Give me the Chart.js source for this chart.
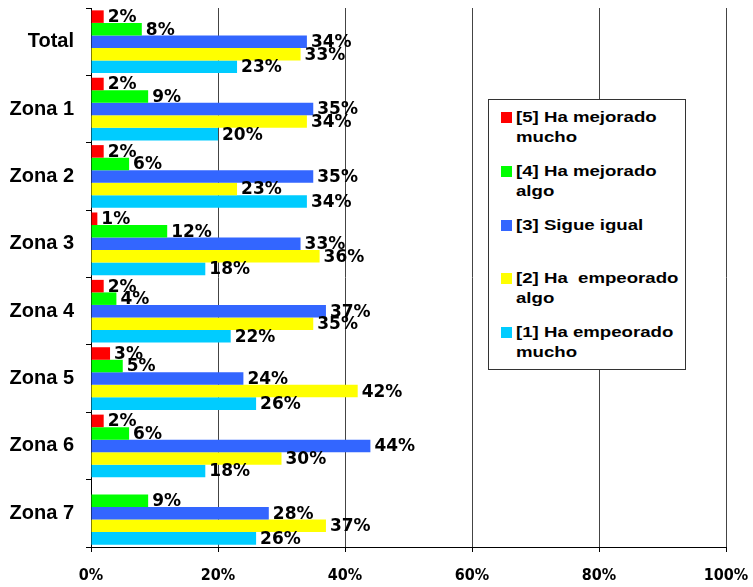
<!DOCTYPE html>
<html>
<head>
<meta charset="utf-8">
<script src="https://cdn.jsdelivr.net/npm/chart.js@4/dist/chart.umd.min.js"></script>
<style>
  html, body { margin: 0; padding: 0; background: #fff; }
  #wrap { position: relative; width: 753px; height: 587px; }
  #legend {
    position: absolute; left: 488px; top: 99px; width: 198px; height: 271px;
    border: 1px solid #333; background: #fff; box-sizing: border-box;
    font: bold 14px "Liberation Sans", Arial, sans-serif; color: #000;
  }
  .item { position: absolute; left: 12px; }
  .item i { position: absolute; left: 0; top: 5px; width: 11px; height: 11px; }
  .item span {
    position: absolute; left: 15px; top: 0; white-space: nowrap; line-height: 20px;
    transform: scaleX(1.33); transform-origin: left top;
  }
</style>
</head>
<body>
<div id="wrap">
  <canvas id="chart" width="753" height="587"></canvas>
  <div id="legend"></div>
</div>
<script>
(function () {
  'use strict';

  var categories = ['Total', 'Zona 1', 'Zona 2', 'Zona 3', 'Zona 4', 'Zona 5', 'Zona 6', 'Zona 7'];
  var seriesNames = ['[5] Ha mejorado mucho', '[4] Ha mejorado algo', '[3] Sigue igual',
                     '[2] Ha  empeorado algo', '[1] Ha empeorado mucho'];
  var colors = ['#ff0000', '#00ff00', '#3366ff', '#ffff00', '#00ccff'];

  var mejoradoMucho  = [2, 2, 2, 1, 2, 3, 2, 0];
  var mejoradoAlgo   = [8, 9, 6, 12, 4, 5, 6, 9];
  var sigueIgual     = [34, 35, 35, 33, 37, 24, 44, 28];
  var empeoradoAlgo  = [33, 34, 23, 36, 35, 42, 30, 37];
  var empeoradoMucho = [23, 20, 34, 18, 22, 26, 18, 26];

  var xTicks = [0, 20, 40, 60, 80, 100];

  var series = [mejoradoMucho, mejoradoAlgo, sigueIgual, empeoradoAlgo, empeoradoMucho];

  /** Draw value labels to the right of each bar */
  var valueLabels = {
    id: 'valueLabels',
    afterDatasetsDraw: function (chart) {
      var ctx = chart.ctx;
      ctx.save();
      ctx.font = 'bold 17px "DejaVu Sans", sans-serif';
      ctx.fillStyle = '#000';
      ctx.textAlign = 'left';
      ctx.textBaseline = 'middle';
      chart.data.datasets.forEach(function (ds, i) {
        var meta = chart.getDatasetMeta(i);
        meta.data.forEach(function (bar, j) {
          var v = ds.data[j];
          if (!v) return;
          ctx.fillText(v + '%', bar.x + 4, bar.y + 1);
        });
      });
      ctx.restore();
    }
  };

  new Chart(document.getElementById('chart'), {
    type: 'bar',
    data: {
      labels: categories,
      datasets: series.map(function (d, i) {
        return {
          label: seriesNames[i],
          data: d,
          backgroundColor: colors[i],
          borderWidth: 0,
          barPercentage: 1,
          categoryPercentage: 0.93
        };
      })
    },
    options: {
      indexAxis: 'y',
      responsive: false,
      animation: false,
      layout: { padding: { top: 8, right: 27, left: 0, bottom: 0 } },
      plugins: { legend: { display: false }, tooltip: { enabled: false } },
      scales: {
        x: {
          min: 0, max: 100,
          afterBuildTicks: function (s) {
            s.ticks = xTicks.map(function (v) { return { value: v }; });
          },
          afterFit: function (s) {
            s.height = 40;
            s.paddingLeft = 0;
            s.paddingRight = 0;
          },
          grid: { color: '#444', tickLength: 5, tickColor: '#000' },
          border: { color: '#000' },
          ticks: {
            padding: 14,
            color: '#000',
            font: { family: '"DejaVu Sans Condensed", "DejaVu Sans", sans-serif', size: 16, weight: 'bold' },
            callback: function (v) { return v + '%'; }
          }
        },
        y: {
          afterFit: function (s) {
            s.width = 91;
            s.paddingTop = 0;
            s.paddingBottom = 0;
          },
          grid: { drawOnChartArea: false, tickLength: 5, tickColor: '#000' },
          border: { color: '#000' },
          ticks: {
            padding: 12,
            color: '#000',
            font: { family: '"Liberation Sans", Arial, sans-serif', size: 20, weight: 'bold' }
          }
        }
      }
    },
    plugins: [valueLabels]
  });

  // HTML legend with wrapped labels
  var legendTops = [7, 61, 115, 168, 222];
  var legendText = [
    '[5] Ha mejorado<br>mucho', '[4] Ha mejorado<br>algo', '[3] Sigue igual',
    '[2] Ha&nbsp; empeorado<br>algo', '[1] Ha empeorado<br>mucho'
  ];
  var html = '';
  legendText.forEach(function (t, i) {
    html += '<div class="item" style="top:' + legendTops[i] + 'px"><i style="background:' +
      colors[i] + '"></i><span>' + t + '</span></div>';
  });
  document.getElementById('legend').innerHTML = html;
})();
</script>
</body>
</html>
